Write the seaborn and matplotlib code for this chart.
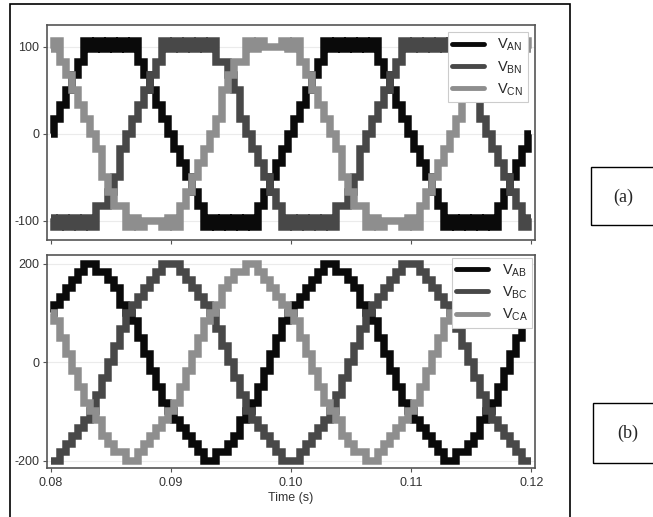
# -*- coding: utf-8 -*-
# stepped phase / line voltages of a multilevel inverter, two stacked panels

import numpy as np
import pandas as pd
import matplotlib
matplotlib.use("Agg")
import matplotlib.pyplot as plt
from matplotlib.lines import Line2D
from matplotlib.patches import Rectangle
import seaborn as sns

#%% DATA (one value per sample)

t_start, t_stop, n_samples = 0.08, 0.12, 81
t = np.linspace(t_start, t_stop, n_samples)

v_an = [0, 17, 33, 50, 67, 83, 107, 97, 107, 97, 107, 97, 107, 97, 107, 83, 67, 50, 33, 17, 0,
        -17, -33, -50, -67, -83, -107, -97, -107, -97, -107, -97, -107, -97, -107, -83, -67, -50, -33, -17, 0,
        17, 33, 50, 67, 83, 107, 97, 107, 97, 107, 97, 107, 97, 107, 83, 67, 50, 33, 17, 0,
        -17, -33, -50, -67, -83, -107, -97, -107, -97, -107, -97, -107, -97, -107, -83, -67, -50, -33, -17, 0]
v_bn = [-97, -107, -97, -107, -97, -107, -97, -107, -83, -83, -67, -50, -17, 0, 17, 33, 50, 67, 83,
        107, 97, 107, 97, 107, 97, 107, 97, 107, 83, 83, 67, 50, 17, 0, -17, -33, -50, -67, -83, -107, -97,
        -107, -97, -107, -97, -107, -97, -107, -83, -83, -67, -50, -17, 0, 17, 33, 50, 67, 83,
        107, 97, 107, 97, 107, 97, 107, 97, 107, 83, 83, 67, 50, 17, 0, -17, -33, -50, -67, -83, -107, -97]
v_cn = [97, 107, 83, 67, 50, 33, 17, 0, -17, -50, -67, -83, -83,
        -107, -97, -107, -100, -100, -100, -107, -97, -107, -83, -67, -50, -33, -17, 0, 17, 50, 67, 83, 83,
        107, 97, 107, 100, 100, 100, 107, 97,
        107, 83, 67, 50, 33, 17, 0, -17, -50, -67, -83, -83,
        -107, -97, -107, -100, -100, -100, -107, -97, -107, -83, -67, -50, -33, -17, 0, 17, 50, 67, 83, 83,
        107, 97, 107, 100, 100, 100, 107, 97]

v_ab = [100, 117, 133, 150, 167, 183, 200, 200, 183, 183, 167, 150, 117, 100, 83, 50, 17,
        -17, -50, -83, -100, -117, -133, -150, -167, -183, -200, -200, -183, -183, -167, -150, -117, -100, -83, -50, -17,
        17, 50, 83, 100,
        117, 133, 150, 167, 183, 200, 200, 183, 183, 167, 150, 117, 100, 83, 50, 17,
        -17, -50, -83, -100, -117, -133, -150, -167, -183, -200, -200, -183, -183, -167, -150, -117, -100, -83, -50, -17,
        17, 50, 83, 100]
v_bc = [-200, -200, -183, -167, -150, -133, -117, -100, -67, -33, 0, 33, 67, 100, 117, 133, 150, 167, 183,
        200, 200, 200, 183, 167, 150, 133, 117, 100, 67, 33, 0, -33, -67, -100, -117, -133, -150, -167, -183, -200, -200,
        -200, -183, -167, -150, -133, -117, -100, -67, -33, 0, 33, 67, 100, 117, 133, 150, 167, 183,
        200, 200, 200, 183, 167, 150, 133, 117, 100, 67, 33, 0, -33, -67, -100, -117, -133, -150, -167, -183, -200, -200]
v_ca = [100, 83, 50, 17, -17, -50, -83, -100, -117, -150, -167, -183, -183, -200, -200,
        -183, -167, -150, -133, -117, -100, -83, -50, -17, 17, 50, 83, 100, 117, 150, 167, 183, 183, 200, 200,
        183, 167, 150, 133, 117, 100,
        83, 50, 17, -17, -50, -83, -100, -117, -150, -167, -183, -183, -200, -200,
        -183, -167, -150, -133, -117, -100, -83, -50, -17, 17, 50, 83, 100, 117, 150, 167, 183, 183, 200, 200,
        183, 167, 150, 133, 117, 100]

phase_labels = [r"V$_{\mathregular{AN}}$", r"V$_{\mathregular{BN}}$", r"V$_{\mathregular{CN}}$"]
line_labels = [r"V$_{\mathregular{AB}}$", r"V$_{\mathregular{BC}}$", r"V$_{\mathregular{CA}}$"]
x_ticks = [0.08, 0.09, 0.10, 0.11, 0.12]
x_ticklabels = ["0.08", "0.09", "0.10", "0.11", "0.12"]
colors = ["#0a0a0a", "#484848", "#8e8e8e"]

# long form tables for seaborn
phase_df = pd.DataFrame({"t": np.tile(t, 3),
                         "v": np.concatenate([v_an, v_bn, v_cn]),
                         "series": np.repeat(phase_labels, n_samples)})
line_df = pd.DataFrame({"t": np.tile(t, 3),
                        "v": np.concatenate([v_ab, v_bc, v_ca]),
                        "series": np.repeat(line_labels, n_samples)})

#%% PLOT

sns.set_theme(style="ticks")
plt.rcParams['font.family'] = ['Liberation Sans', 'DejaVu Sans']

W, H = 653, 517
fig = plt.figure(figsize=(W / 100, H / 100), dpi=100)
ax1 = fig.add_axes([47 / W, (H - 240) / H, 488 / W, 215 / H])
ax2 = fig.add_axes([47 / W, (H - 468) / H, 488 / W, 213 / H])

panels = [(ax1, phase_df, phase_labels, (-122, 125), [-100, 0, 100], 0.5),
          (ax2, line_df, line_labels, (-215, 218), [-200, 0, 200], 0.2)]

for ax, df, labels, ylim, yticks, pad in panels:
    sns.lineplot(data=df, x="t", y="v", hue="series", hue_order=labels,
                 palette=colors, estimator=None, sort=False, legend=False,
                 drawstyle="steps-mid", linewidth=5.4,
                 solid_joinstyle="miter", solid_capstyle="butt", ax=ax)
    ax.set_xlim(0.0797, 0.1203)
    ax.set_ylim(*ylim)
    ax.set_yticks(yticks)
    ax.set_yticklabels([str(v) for v in yticks])
    ax.set_xticks(x_ticks)
    ax.yaxis.grid(True, color="#ebebeb", lw=0.8)
    ax.set_axisbelow(True)
    ax.set_xlabel("")
    ax.set_ylabel("")
    for sp in ax.spines.values():
        sp.set_visible(True)
        sp.set_color("#555555")
        sp.set_linewidth(1.2)
    ax.tick_params(length=3, width=0.8, color="#555555", labelsize=9,
                   labelcolor="#333333", pad=2.5)
    handles = [Line2D([0], [0], color=c, lw=3.5) for c in colors]
    leg = ax.legend(handles, labels, loc="upper right", fontsize=10.5,
                    frameon=True, fancybox=False, framealpha=1,
                    edgecolor="#cccccc", handlelength=2.2, handletextpad=0.9,
                    labelspacing=0.38, borderpad=0.3, borderaxespad=pad)
    leg.get_frame().set_linewidth(0.8)

ax1.set_xticklabels([])
ax2.tick_params(axis="x", pad=3.5)
ax2.set_xticklabels(x_ticklabels)
ax2.set_xlabel("Time (s)", fontsize=9, color="#333333", labelpad=2.5)

# outer frame and the (a) / (b) boxes
fig.add_artist(Rectangle((10 / W, -0.02), 560 / W, (H - 4) / H + 0.02,
                         transform=fig.transFigure, fill=False, ec="black", lw=1.2))
fig.add_artist(Rectangle((591 / W, (H - 225) / H), 0.2, 58 / H,
                         transform=fig.transFigure, fill=False, ec="black", lw=1.0))
fig.add_artist(Rectangle((593 / W, (H - 463) / H), 0.2, 60 / H,
                         transform=fig.transFigure, fill=False, ec="black", lw=1.0))
fig.text(623 / W, (H - 197) / H, "(a)", ha="center", va="center",
         fontsize=13, family="Liberation Serif")
fig.text(628 / W, (H - 433) / H, "(b)", ha="center", va="center",
         fontsize=13, family="Liberation Serif")

fig.savefig("out.png", dpi=100)
